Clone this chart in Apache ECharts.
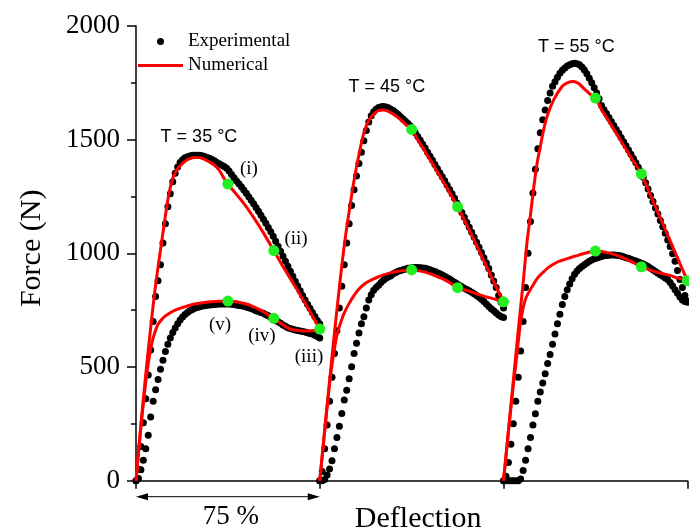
<!DOCTYPE html>
<html><head><meta charset="utf-8">
<script src="https://cdn.jsdelivr.net/npm/echarts@6/dist/echarts.min.js"></script>
<style>html,body{margin:0;padding:0;background:#fff}#c{width:689px;height:532px}</style>
</head><body><div id="c"></div>
<script>
// ---------- DATA ----------
const cycleOffsets = [0, 75, 150];          // deflection offset of each cycle (each cycle spans 75 %)
const yTicks = [0, 500, 1000, 1500, 2000];
const tempLabels = ['T = 35 °C', 'T = 45 °C', 'T = 55 °C'];
const stageLabels = ['(i)', '(ii)', '(iii)', '(iv)', '(v)'];

// Experimental force (N) sampled at deflection 0,1,...,75 within each cycle
const exp35Load = [0,50,150,255,360,465,575,700,810,880,950,1045,1130,1205,1262,1315,1352,1380,1400,1412,
  1420,1425,1428,1431,1432,1432,1431,1429,1426,1422,1418,1413,1407,1400,1394,1388,1382,1374,1362,1347,
  1333,1318,1306,1293,1279,1264,1249,1234,1218,1202,1185,1168,1150,1132,1114,1095,1075,1053,1031,1009,
  987,965,943,921,899,877,856,835,815,795,776,758,740,722,705,690];
const exp35Unload = [0,10,48,90,140,200,280,350,400,445,490,530,568,600,628,652,672,690,707,720,
  731,740,747,753,758,762,765,768,770,772,773,774,775,776,777,777,777,777,777,776,
  775,773,771,769,767,764,761,757,753,748,744,740,736,730,725,719,713,706,699,692,
  685,679,673,669,666,663,661,659,656,654,651,648,645,640,634,628];
const exp45Load = [0,40,140,245,350,455,560,660,760,855,950,1045,1130,1210,1280,1340,1395,1445,1495,1540,
  1578,1605,1623,1634,1641,1645,1646,1644,1640,1634,1628,1620,1611,1601,1591,1581,1571,1560,1545,1530,
  1514,1497,1480,1463,1445,1427,1409,1391,1373,1355,1337,1319,1300,1281,1262,1242,1222,1201,1180,1159,
  1137,1115,1093,1071,1049,1027,1004,981,958,933,905,878,850,815,785,760];
const exp45Unload = [0,0,5,25,52,88,140,190,240,296,355,398,448,501,560,605,650,690,721,760,
  795,818,838,850,860,872,882,890,896,902,910,916,921,925,928,931,934,936,937,938,
  938,937,936,934,931,928,924,920,915,910,905,899,893,887,880,873,866,859,853,847,
  841,835,829,822,815,807,798,788,777,766,756,747,738,729,722,718];
const exp55Load = [0,20,80,160,250,350,455,570,700,850,1000,1140,1265,1370,1460,1530,1588,1630,1672,1705,
  1735,1755,1775,1792,1805,1815,1824,1830,1834,1836,1834,1830,1820,1806,1790,1770,1750,1728,1705,1680,
  1650,1632,1615,1598,1580,1562,1545,1528,1510,1491,1473,1455,1436,1417,1398,1379,1360,1335,1310,1283,
  1255,1228,1200,1173,1145,1117,1088,1059,1030,998,965,925,885,850,815,790];
const exp55Unload = [0,0,0,0,0,0,0,8,45,90,140,190,245,295,350,390,430,470,515,555,
  600,645,690,732,775,810,840,865,888,908,922,933,942,950,958,965,971,976,980,983,
  986,989,991,992,993,993,992,990,988,985,981,978,974,970,966,962,958,953,948,942,
  935,928,920,913,906,899,892,885,872,856,840,825,808,795,788,785];

// Numerical [deflection within cycle, force]
const num35Load = [[0,0],[2,245],[4,470],[6,675],[8,860],[10,1015],[12,1165],[13,1235],[14,1290],[15,1330],[16,1355],[18,1385],[20,1405],[22,1417],[24,1422],[26,1421],[28,1413],[30,1402],[32,1388],[34,1365],[36,1328],[37.5,1305],[40,1272],[44,1220],[48,1158],[52,1090],[56.25,1012],[60,942],[64,871],[68,800],[72,725],[75,667]];
const num35Unload = [[75,667],[73,661],[70,659],[67,660],[64,664],[62,672],[60,686],[58,700],[56.25,714],[54,729],[52,743],[50,755],[48,765],[46,774],[44,780],[42,785],[40,788],[37.5,790],[34,789],[31,787],[28,784],[25,779],[22,772],[19,762],[16,750],[13,732],[11,715],[9,688],[8,662],[7,628],[6,580],[5,515],[4,435],[3,340],[2,235],[1,120],[0,0]];
const num45Load = [[0,0],[2,220],[4,438],[6,650],[8,850],[10,1035],[12,1185],[14,1322],[16,1435],[18,1530],[20,1585],[22,1613],[24,1628],[26,1630],[28,1624],[30,1612],[32,1597],[34,1578],[36,1558],[37.5,1545],[40,1500],[44,1430],[48,1358],[52,1286],[56.25,1205],[60,1125],[64,1035],[68,944],[72,852],[75,787]];
const num45Unload = [[75,787],[72,797],[70,803],[68,808],[66,815],[64,822],[62,830],[60,837],[58,843],[56.25,849],[54,864],[52,878],[50,889],[48,897],[46,906],[44,914],[42,920],[40,924],[37.5,927],[34,924],[32,921],[30,917],[28,912],[26,905],[24,897],[22,888],[20,877],[18,863],[16,843],[14,815],[12,780],[10,738],[9,710],[8,678],[7,640],[6,580],[5,510],[4,425],[3,325],[2,220],[1,110],[0,0]];
const num55Load = [[0,0],[2,220],[4,440],[6,660],[8,870],[9.6,1050],[11,1170],[12.2,1279],[13.6,1390],[15,1470],[16.5,1550],[18,1610],[20.4,1674],[23.8,1733],[26,1750],[28.6,1756],[30.5,1748],[32.7,1726],[35,1703],[37.5,1683],[40,1633],[44,1563],[48,1493],[52,1423],[56.25,1349],[60,1255],[64,1155],[68,1055],[72,955],[75,880]];
const num55Unload = [[75,880],[72,889],[70,895],[68,903],[66,908],[64,913],[62,919],[60,926],[58,934],[56.25,941],[54,953],[52,965],[50,975],[48,984],[46,992],[44,999],[42,1004],[40,1008],[37.5,1010],[34,1003],[32,997],[30,990],[28,984],[26,977],[24,970],[22,962],[20,950],[18,935],[16,915],[14,893],[12,860],[10,823],[9,800],[8,760],[7,700],[6,610],[5,510],[4,420],[3,320],[2,215],[1,108],[0,0]];

// Stage points (i)..(v) per cycle [deflection within cycle, force]
const stage35 = [[37.5,1305],[56.25,1012],[75,667],[56.25,714],[37.5,790]];
const stage45 = [[37.5,1545],[56.25,1205],[75,787],[56.25,849],[37.5,927]];
const stage55 = [[37.5,1683],[56.25,1349],[75,880],[56.25,941],[37.5,1010]];

// ---------- LAYOUT (annotation anchors in data units) ----------
const tempAnchors = [[25.7,1512],[102.4,1731],[179.7,1907]];
const stageAnchors = [[46.1,1371],[65.3,1063],[70.6,544],[51.4,636],[34.3,685]];

const SERIF = 'Liberation Serif';
const SANS = 'Liberation Sans';

const expSets = [[exp35Load, exp35Unload], [exp45Load, exp45Unload], [exp55Load, exp55Unload]];
const numSets = [[num35Load, num35Unload], [num45Load, num45Unload], [num55Load, num55Unload]];
const stageSets = [stage35, stage45, stage55];

const series = [];
expSets.forEach((pair, c) => {
  pair.forEach(arr => {
    series.push({
      type: 'scatter', name: 'Experimental', silent: true, clip: false, z: 2,
      symbol: 'circle', symbolSize: 7, itemStyle: { color: '#000', opacity: 1 },
      data: arr.map((y, i) => [i + cycleOffsets[c], y])
    });
  });
});
numSets.forEach((pair, c) => {
  pair.forEach(arr => {
    series.push({
      type: 'line', name: 'Numerical', silent: true, clip: false, z: 3,
      symbol: 'none', showSymbol: false, smooth: 0.3,
      itemStyle: { color: '#ff0000' },
      lineStyle: { color: '#ff0000', width: 3 },
      data: arr.map(p => [p[0] + cycleOffsets[c], p[1]])
    });
  });
});
const stageData = [];
stageSets.forEach((arr, c) => arr.forEach(p => stageData.push([p[0] + cycleOffsets[c], p[1]])));
series.push({
  type: 'scatter', name: 'stages', silent: true, clip: false, z: 4,
  symbol: 'circle', symbolSize: 11, itemStyle: { color: '#22ee22', opacity: 1 },
  data: stageData
});

const option = {
  animation: false,
  backgroundColor: '#fff',
  grid: { left: 136, right: 1.7, top: 26, bottom: 51.3, containLabel: false, outerBoundsMode: 'none' },
  legend: {
    data: [
      { name: 'Experimental', icon: 'circle', itemStyle: { color: '#000' } },
      { name: 'Numerical', icon: 'path://M0,0H45V3H0Z', itemStyle: { color: '#ff0000' } }
    ],
    orient: 'vertical', left: 138, top: 32, padding: 0,
    itemWidth: 45, itemHeight: 7, itemGap: 5, selectedMode: false,
    textStyle: { fontFamily: SERIF, fontSize: 19, color: '#000' }
  },
  xAxis: {
    type: 'value', min: 0, max: 225, interval: 75,
    axisLine: { show: true, onZero: false, lineStyle: { color: '#000', width: 1.5 } },
    axisTick: { show: true, inside: false, length: 8, lineStyle: { color: '#000', width: 1.5 } },
    axisLabel: { show: false },
    splitLine: { show: false }
  },
  yAxis: {
    type: 'value', min: yTicks[0], max: yTicks[yTicks.length - 1], interval: 500,
    axisLine: { show: true, lineStyle: { color: '#000', width: 1.5 } },
    axisTick: { show: true, inside: false, length: 9, lineStyle: { color: '#000', width: 1.5 } },
    minorTick: { show: true, splitNumber: 2, length: 5, lineStyle: { color: '#000', width: 1.5 } },
    axisLabel: { fontFamily: SERIF, fontSize: 27, color: '#000', margin: 16,
      formatter: v => (yTicks.indexOf(v) >= 0 ? String(v) : '') },
    splitLine: { show: false }
  },
  series: series
};

const chart = echarts.init(document.getElementById('c'), null, { renderer: 'canvas' });
chart.setOption(option);

const px = (x, y) => chart.convertToPixel({ gridIndex: 0 }, [x, y]);
const graphics = [];
tempLabels.forEach((t, i) => {
  const p = px(tempAnchors[i][0], tempAnchors[i][1]);
  graphics.push({ type: 'text', x: p[0], y: p[1], silent: true,
    style: { text: t, fontFamily: SANS, fontSize: 18, fill: '#000', align: 'center', verticalAlign: 'middle' } });
});
stageLabels.forEach((t, i) => {
  const p = px(stageAnchors[i][0], stageAnchors[i][1]);
  graphics.push({ type: 'text', x: p[0], y: p[1], silent: true,
    style: { text: t, fontFamily: SERIF, fontSize: 19, fill: '#000', align: 'center', verticalAlign: 'middle' } });
});
const o = px(0, 0), e75 = px(75, 0);
const ay = o[1] + 16;
graphics.push({ type: 'line', silent: true, shape: { x1: o[0] + 10, y1: ay, x2: e75[0] - 10, y2: ay }, style: { stroke: '#000', lineWidth: 1 } });
graphics.push({ type: 'polygon', silent: true, shape: { points: [[o[0], ay], [o[0] + 12, ay - 3.5], [o[0] + 12, ay + 3.5]] }, style: { fill: '#000' } });
graphics.push({ type: 'polygon', silent: true, shape: { points: [[e75[0], ay], [e75[0] - 12, ay - 3.5], [e75[0] - 12, ay + 3.5]] }, style: { fill: '#000' } });
graphics.push({ type: 'text', x: (o[0] + e75[0]) / 2 + 3, y: o[1] + 36, silent: true,
  style: { text: '75 %', fontFamily: SERIF, fontSize: 27, fill: '#000', align: 'center', verticalAlign: 'middle' } });
const mid = px(112.5, 0);
graphics.push({ type: 'text', x: mid[0] + 6.5, y: o[1] + 38, silent: true,
  style: { text: 'Deflection', fontFamily: SERIF, fontSize: 30, fill: '#000', align: 'center', verticalAlign: 'middle' } });
const ymid = px(0, 1000);
graphics.push({ type: 'text', x: o[0] - 104, y: ymid[1] - 5, rotation: Math.PI / 2, silent: true,
  style: { text: 'Force (N)', fontFamily: SERIF, fontSize: 30, fill: '#000', align: 'center', verticalAlign: 'middle' } });
chart.setOption({ graphic: graphics });
</script>
</body></html>
